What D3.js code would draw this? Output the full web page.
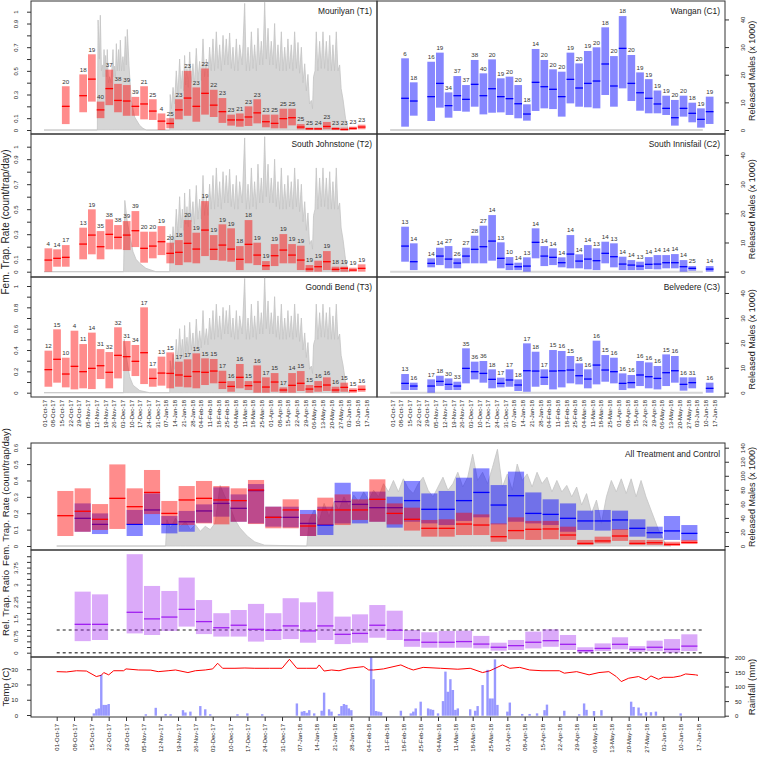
<!DOCTYPE html>
<html><head><meta charset="utf-8">
<script src="https://cdn.jsdelivr.net/npm/d3@7"></script>
<style>body{margin:0;background:#fff} svg text{font-family:"Liberation Sans",Arial,Helvetica,sans-serif}</style>
</head><body><svg id="c" width="757" height="762"></svg>
<script>
// ---------------- DATA ----------------
const weekLabels = ["01-Oct-17","08-Oct-17","15-Oct-17","22-Oct-17","29-Oct-17","05-Nov-17","12-Nov-17","19-Nov-17","26-Nov-17","03-Dec-17","10-Dec-17","17-Dec-17","24-Dec-17","31-Dec-17","07-Jan-18","14-Jan-18","21-Jan-18","28-Jan-18","04-Feb-18","11-Feb-18","18-Feb-18","25-Feb-18","04-Mar-18","11-Mar-18","18-Mar-18","25-Mar-18","01-Apr-18","08-Apr-18","15-Apr-18","22-Apr-18","29-Apr-18","06-May-18","13-May-18","20-May-18","27-May-18","03-Jun-18","10-Jun-18","17-Jun-18"];

// [week index, lower, median, upper, n]
const mourilyan = [[2,0.05,0.20,0.37,20],[4,0.15,0.29,0.47,18],[5,0.24,0.43,0.64,19],[6,0.10,0.17,0.24,40],[7,0.21,0.35,0.51,37],[8,0.15,0.25,0.39,38],[9,0.12,0.245,0.38,39],[10,0.12,0.20,0.28,39],[11,0.09,0.22,0.37,21],[12,0.085,0.16,0.26,25],[13,0,0.075,0.14,4],[14,0.015,0.055,0.10,25],[15,0.09,0.17,0.26,23],[16,0.12,0.27,0.50,23],[17,0.07,0.20,0.36,23],[18,0.13,0.31,0.52,22],[19,0.11,0.21,0.34,22],[20,0.06,0.155,0.27,23],[21,0.037,0.085,0.13,23],[22,0.028,0.085,0.14,21],[23,0.034,0.11,0.20,23],[24,0.056,0.145,0.26,23],[25,0.023,0.07,0.13,23],[26,0.014,0.056,0.13,25],[27,0.014,0.096,0.18,25],[28,0.039,0.104,0.18,25],[29,0.006,0.025,0.05,25],[30,0,0.011,0.02,25],[31,0,0.01,0.02,24],[32,0.006,0.03,0.068,23],[33,0,0.011,0.022,23],[34,0,0.003,0.02,23],[35,0,0.014,0.028,23],[36,0.006,0.025,0.045,23]];
const wangan = [[1,0.028,0.268,0.606,6],[2,0.121,0.245,0.403,18],[4,0.076,0.282,0.577,16],[5,0.189,0.394,0.654,19],[6,0.104,0.206,0.318,34],[7,0.161,0.290,0.456,37],[8,0.155,0.259,0.380,37],[9,0.197,0.386,0.592,38],[10,0.132,0.290,0.479,40],[11,0.146,0.349,0.597,20],[12,0.149,0.282,0.437,19],[13,0.127,0.265,0.451,20],[14,0.099,0.222,0.380,20],[15,0.079,0.135,0.217,18],[16,0.161,0.403,0.685,14],[17,0.183,0.366,0.592,20],[18,0.177,0.344,0.513,20],[19,0.113,0.282,0.493,20],[20,0.225,0.428,0.654,19],[21,0.197,0.355,0.563,20],[22,0.192,0.394,0.668,19],[23,0.183,0.414,0.699,20],[24,0.296,0.558,0.868,18],[25,0.197,0.372,0.625,20],[26,0.352,0.690,0.963,18],[27,0.245,0.394,0.634,20],[28,0.163,0.315,0.487,19],[29,0.141,0.268,0.430,19],[30,0.141,0.220,0.334,19],[31,0.127,0.183,0.290,19],[32,0.037,0.104,0.254,20],[33,0.113,0.183,0.290,20],[34,0.065,0.141,0.231,18],[35,0.020,0.090,0.183,19],[36,0.051,0.155,0.282,19]];
const southJohnstone = [[0,0,0.093,0.187,4],[1,0.04,0.107,0.179,14],[2,0.04,0.115,0.213,17],[4,0.099,0.221,0.352,13],[5,0.139,0.293,0.499,19],[6,0.099,0.20,0.325,35],[7,0.179,0.299,0.419,38],[8,0.179,0.275,0.373,38],[9,0.173,0.293,0.405,39],[10,0.197,0.328,0.485,39],[11,0.072,0.187,0.32,20],[12,0.107,0.205,0.32,20],[13,0.133,0.24,0.365,19],[14,0.067,0.147,0.232,20],[15,0.053,0.155,0.253,18],[16,0.075,0.227,0.413,20],[17,0.067,0.181,0.312,19],[18,0.125,0.333,0.565,19],[19,0.093,0.179,0.293,19],[20,0.088,0.213,0.379,19],[21,0.08,0.181,0.347,19],[22,0.013,0.099,0.205,18],[23,0.067,0.219,0.413,18],[24,0.053,0.133,0.232,19],[25,0.013,0.048,0.085,19],[26,0.045,0.128,0.221,19],[27,0.067,0.173,0.301,19],[28,0.067,0.133,0.221,19],[29,0.013,0.093,0.208,19],[30,0,0.021,0.053,19],[31,0,0.04,0.088,19],[32,0.013,0.08,0.165,19],[33,0,0.019,0.04,18],[34,0,0.027,0.04,19],[35,0,0.013,0.032,19],[36,0,0.027,0.059,19]];
const southInnisfail = [[1,0.08,0.205,0.36,13],[2,0.013,0.08,0.227,14],[4,0.035,0.067,0.107,14],[5,0.053,0.125,0.192,14],[6,0.027,0.101,0.205,27],[7,0.027,0.069,0.107,26],[8,0.067,0.125,0.192,27],[9,0.067,0.179,0.288,28],[10,0.067,0.2,0.368,27],[11,0.088,0.245,0.453,14],[12,0.027,0.107,0.235,13],[13,0.013,0.059,0.117,10],[14,0.013,0.04,0.072,14],[15,0,0.045,0.115,13],[16,0.107,0.235,0.347,14],[17,0.045,0.125,0.205,14],[18,0.053,0.115,0.187,14],[19,0.035,0.072,0.115,14],[20,0.027,0.141,0.293,14],[21,0.027,0.085,0.139,14],[22,0.019,0.101,0.213,14],[23,0.013,0.088,0.187,13],[24,0.067,0.147,0.24,14],[25,0.035,0.12,0.227,13],[26,0.013,0.061,0.12,14],[27,0.013,0.053,0.093,14],[28,0.013,0.045,0.08,13],[29,0.021,0.059,0.117,14],[30,0.019,0.061,0.133,14],[31,0.027,0.072,0.133,14],[32,0.027,0.072,0.141,14],[33,0,0.04,0.093,14],[34,0.008,0.027,0.045,25],[36,0,0.021,0.045,14]];
const goondiBend = [[0,0.056,0.216,0.394,12],[1,0.094,0.313,0.594,15],[2,0.05,0.175,0.328,10],[3,0.031,0.247,0.581,4],[4,0.041,0.197,0.456,11],[5,0.034,0.228,0.563,14],[6,0.128,0.253,0.409,31],[7,0.041,0.191,0.381,32],[8,0.134,0.35,0.613,32],[9,0.203,0.338,0.484,31],[10,0.156,0.294,0.447,34],[11,0.081,0.375,0.8,17],[12,0.056,0.134,0.228,17],[13,0.066,0.184,0.338,13],[14,0.041,0.181,0.378,15],[15,0.056,0.166,0.291,17],[16,0.05,0.153,0.313,17],[17,0.041,0.197,0.369,15],[18,0.072,0.191,0.322,15],[19,0.088,0.203,0.316,15],[20,0.034,0.097,0.206,17],[21,0.009,0.059,0.109,16],[22,0.041,0.144,0.269,16],[23,0.025,0.066,0.109,15],[24,0,0.1,0.256,16],[25,0,0.053,0.144,17],[26,0.009,0.1,0.184,15],[27,0,0.025,0.05,17],[28,0,0.069,0.184,14],[29,0.016,0.088,0.203,15],[30,0,0.034,0.072,15],[31,0.009,0.056,0.109,16],[32,0.016,0.072,0.144,16],[33,0,0.025,0.056,16],[34,0.009,0.05,0.094,15],[35,0,0.019,0.041,15],[36,0.009,0.031,0.069,16]];
const belvedere = [[1,0.025,0.0875,0.175,13],[2,0.025,0.0625,0.094,16],[4,0,0.0625,0.125,17],[5,0.0625,0.106,0.159,18],[6,0.025,0.078,0.134,30],[7,0.025,0.0625,0.103,33],[8,0.0875,0.228,0.416,35],[9,0.125,0.197,0.291,36],[10,0.094,0.181,0.297,36],[11,0.041,0.125,0.219,18],[12,0.05,0.0875,0.141,17],[13,0.056,0.119,0.219,17],[14,0.016,0.072,0.125,18],[15,0.009,0.206,0.4625,17],[16,0.056,0.203,0.384,18],[17,0.072,0.144,0.219,17],[18,0.031,0.203,0.4,15],[19,0.05,0.206,0.391,16],[20,0.0875,0.2125,0.344,15],[21,0.078,0.159,0.275,16],[22,0.041,0.128,0.219,16],[23,0.078,0.259,0.4875,16],[24,0.103,0.2125,0.353,15],[25,0.0875,0.197,0.328,16],[26,0.025,0.0875,0.181,16],[27,0.041,0.094,0.166,16],[28,0.0625,0.166,0.297,16],[29,0.041,0.15,0.284,16],[30,0.031,0.134,0.25,16],[31,0.0625,0.1875,0.359,15],[32,0.094,0.206,0.344,16],[33,0.019,0.078,0.144,16],[34,0.041,0.094,0.144,31],[36,0,0.041,0.094,16]];

// released males (day since 01-Oct-17, height in panel rate units)
const releasedEarlyT1 = [[0,0],[42.9,0],[43.5,0.93],[44.5,0.6],[45.3,0.97],[46.2,0.5],[46.9,0.55],[47.6,0.45],[48.3,0.68],[49,0.45],[49.6,0.63],[50.3,0.45],[50.9,0.68],[51.8,0.4],[52.8,0.45],[54,0.4],[55.5,0.68],[56.2,0.45],[56.8,0.54],[57.5,0.45],[58.2,0.73],[59,0.5],[60,0.68],[60.7,0.5],[61.4,0.76],[62.4,0.5],[63.5,0.62],[64.4,0.5],[65.4,0.79],[66.2,0.55],[67,0.85],[68.4,0.54],[70.2,0.25],[72.9,0.11],[76.9,0.04],[79.6,0.014],[82.3,0],[101,0]];
const releasedEarlyT2 = [[0,0],[64,0],[65,0.57],[67,0.4],[69,0.29],[71.6,0.16],[74,0.1],[77,0.067],[82,0.027],[90,0],[101,0]];
const releasedEarlyT3 = [[0,0],[64,0],[64.5,0.5],[66.2,0.34],[68.9,0.15],[71.6,0.07],[77,0.02],[85,0],[101,0]];
const releasedMain = [[101.1,0],[101.5,0.3],[102.5,0.18],[103.8,0.36],[105,0.22],[106.4,0.5],[107.7,0.3],[109.1,0.6],[110.2,0.35],[111.3,0.5],[112.2,0.33],[113.1,0.63],[114,0.38],[115,0.52],[116,0.36],[117.2,0.66],[118.5,0.4],[119.8,0.56],[121,0.38],[122.5,0.69],[123.8,0.42],[125.2,0.58],[126.5,0.42],[127.9,0.77],[129.2,0.45],[130.6,0.6],[131.9,0.45],[133.2,0.7],[134.5,0.5],[135.9,0.77],[137.2,0.5],[138.6,0.83],[140,0.52],[141.3,0.72],[142.6,0.5],[144,0.8],[145.3,0.55],[146.6,0.77],[148,0.55],[149.3,0.82],[150.6,0.52],[152,0.7],[153.3,0.5],[154.7,0.77],[156,0.5],[157.4,0.72],[159.4,0.55],[161.4,1.07],[162.7,0.5],[164.1,0.7],[165.4,0.5],[166.8,0.83],[168.1,0.52],[169.4,0.72],[170.8,0.5],[172.1,0.86],[173.5,0.55],[174.8,0.75],[176,0.55],[177.5,1.08],[178.8,0.6],[180.2,0.86],[181.5,0.55],[182.8,0.75],[184.2,0.55],[185.5,0.9],[186.8,0.52],[188.2,0.72],[189.5,0.5],[190.9,0.83],[192.2,0.5],[193.6,0.7],[194.9,0.5],[196.2,0.77],[197.5,0.52],[198.9,0.72],[200.2,0.5],[201.6,0.83],[203,0.52],[204.3,0.74],[205.6,0.48],[207,0.7],[208.3,0.4],[209.7,0.56],[211,0.33],[212.3,0.47],[213.6,0.22],[215,0.25],[216,0.18],[216.8,0.45],[218,0.5],[219,0.83],[220.3,0.5],[221.7,0.75],[223,0.52],[224.4,0.83],[225.7,0.52],[227.1,0.75],[228.5,0.5],[229.8,0.8],[231.1,0.5],[232.4,0.72],[233.7,0.5],[235.1,0.83],[236.4,0.5],[237.8,0.55],[239,0.35],[240.5,0.26],[242.5,0.1],[244.5,0.01],[246,0]];
const releasedAll = [[0,0],[44,0],[44.5,0.16],[46,0.11],[48,0.17],[50,0.12],[52,0.15],[54,0.1],[56,0.13],[58,0.09],[60,0.12],[62,0.1],[64,0.14],[66,0.37],[68,0.3],[70,0.24],[72,0.16],[74,0.11],[77,0.06],[80,0.025],[84,0.005],[101,0],[102,0.16],[104,0.22],[106,0.15],[108,0.26],[110,0.18],[112,0.27],[114,0.22],[116,0.3],[118,0.24],[120,0.31],[122,0.27],[124,0.33],[126,0.28],[128,0.34],[130,0.3],[132,0.38],[134,0.33],[136,0.4],[138,0.33],[140,0.41],[142,0.35],[144,0.32],[146,0.38],[148,0.42],[150,0.34],[152,0.3],[154,0.36],[156,0.42],[158,0.34],[160,0.38],[162,0.45],[164,0.36],[166,0.42],[168,0.56],[170,0.4],[172,0.45],[174,0.38],[176,0.48],[178,0.59],[180,0.36],[182,0.44],[184,0.34],[186,0.5],[188,0.4],[190,0.44],[192,0.36],[194,0.45],[196,0.38],[198,0.42],[200,0.33],[202,0.4],[204,0.33],[206,0.37],[208,0.3],[210,0.36],[212,0.25],[214,0.32],[216,0.2],[218,0.28],[220,0.14],[222,0.3],[224,0.4],[226,0.33],[228,0.41],[230,0.32],[232,0.41],[234,0.3],[236,0.4],[238,0.3],[240,0.22],[243,0.1],[246,0.01],[248,0]];

// all treatment / all control [week, lower, median, upper]
const allTreatment = [[0,0.061,0.185,0.336],[1,0.087,0.212,0.352],[2,0.098,0.163,0.256],[3,0.104,0.291,0.498],[4,0.134,0.240,0.352],[5,0.195,0.327,0.464],[6,0.134,0.199,0.275],[7,0.128,0.281,0.366],[8,0.138,0.291,0.397],[9,0.132,0.281,0.366],[10,0.148,0.277,0.352],[11,0.134,0.342,0.403],[12,0.108,0.175,0.240],[13,0.108,0.220,0.285],[14,0.061,0.122,0.195],[15,0.128,0.220,0.295],[16,0.128,0.220,0.315],[17,0.159,0.220,0.285],[18,0.148,0.285,0.407],[19,0.132,0.199,0.260],[20,0.094,0.163,0.234],[21,0.057,0.108,0.159],[22,0.057,0.108,0.163],[23,0.067,0.134,0.203],[24,0.067,0.128,0.193],[25,0.026,0.057,0.138],[26,0.041,0.094,0.175],[27,0.037,0.102,0.153],[28,0.041,0.104,0.153],[29,0.037,0.067,0.118],[30,0.006,0.016,0.037],[31,0.016,0.031,0.057],[32,0.031,0.061,0.102],[33,0.006,0.016,0.037],[34,0.006,0.020,0.037],[35,0.000,0.010,0.026],[36,0.012,0.022,0.037]];
const allControl = [[1,0.087,0.169,0.260],[2,0.073,0.132,0.199],[4,0.061,0.132,0.220],[5,0.128,0.220,0.321],[6,0.077,0.132,0.183],[7,0.087,0.148,0.214],[8,0.142,0.214,0.254],[9,0.179,0.260,0.358],[10,0.148,0.230,0.315],[11,0.138,0.338,0.378],[12,0.118,0.175,0.240],[13,0.114,0.175,0.240],[14,0.061,0.138,0.220],[15,0.067,0.128,0.240],[16,0.138,0.271,0.386],[17,0.138,0.254,0.332],[18,0.148,0.234,0.332],[19,0.112,0.234,0.301],[20,0.148,0.277,0.397],[21,0.138,0.224,0.321],[22,0.128,0.224,0.336],[23,0.153,0.277,0.417],[24,0.175,0.327,0.474],[25,0.132,0.250,0.372],[26,0.148,0.307,0.454],[27,0.138,0.199,0.327],[28,0.128,0.193,0.285],[29,0.087,0.169,0.260],[30,0.098,0.153,0.216],[31,0.094,0.153,0.220],[32,0.098,0.159,0.216],[33,0.057,0.108,0.163],[34,0.047,0.081,0.118],[35,0.037,0.092,0.183],[36,0.033,0.077,0.128]];
// relative trap ratio [week, lower, median, upper]
const relRatio = [[1,0.51,1.25,2.69],[2,0.56,1.25,2.57],[4,0.85,1.78,4.34],[5,0.78,1.49,2.94],[6,0.96,1.57,2.72],[7,1.15,1.91,3.31],[8,0.82,1.37,2.32],[9,0.71,1.10,1.74],[10,0.71,1.21,1.88],[11,0.49,1.03,2.15],[12,0.56,0.99,1.74],[13,0.60,1.18,2.40],[14,0.44,0.96,2.22],[15,0.56,1.18,2.69],[16,0.38,0.81,1.59],[17,0.44,0.85,1.69],[18,0.66,1.21,2.10],[19,0.56,0.99,1.85],[20,0.26,0.56,1.0],[21,0.22,0.46,0.90],[22,0.22,0.46,0.96],[23,0.22,0.49,0.97],[24,0.19,0.38,0.74],[25,0.09,0.24,0.44],[26,0.12,0.31,0.56],[27,0.19,0.46,0.93],[28,0.26,0.53,1.03],[29,0.12,0.37,0.78],[30,0.0,0.09,0.24],[31,0.07,0.19,0.41],[32,0.15,0.37,0.68],[33,0.04,0.15,0.29],[34,0.07,0.24,0.53],[35,0.0,0.15,0.60],[36,0.07,0.29,0.81]];

// temperature (day, deg C) and rainfall (day, mm)
const temperature = [[0,28.4],[4,28.2],[8,29],[12,28.8],[16,25.2],[18,26],[19,27.8],[21,26.3],[23,29],[27,29],[28,30.2],[33,29.5],[38,29.4],[41,28.4],[45,29],[48,29.5],[53,27.8],[56,29],[60,29.5],[63,30.2],[65,33.9],[67,30.6],[72,30.6],[76,30.8],[80,30.6],[86,30.6],[91,30.6],[94,36.5],[97,30.6],[101,30.6],[105,30.6],[106,32.8],[108,28.8],[111,29.5],[114,29],[118,30.6],[124,31.7],[126,29.5],[128,29.5],[132,30.2],[139,32.8],[142,30.6],[144,29.5],[148,31.2],[155,30.6],[162,30],[167,30.6],[172,27.8],[175,29],[180,32.8],[183,30.6],[187,31.2],[191,29.5],[196,29],[203,29],[205,27.4],[210,28.4],[215,26.3],[219,27.8],[223,28.4],[226,25.2],[228,21.9],[231,24.1],[235,25.2],[238,23],[240,25.6],[243,23.4],[245,24.7],[249,24.7],[252,25.6],[254,26.9],[258,26.3],[259,26]];
const rainfall = [[15,8],[16,22],[17,25],[18,140],[19,37],[20,37],[21,40],[36,5],[40,27],[44,6],[46,5],[51,19],[52,11],[54,14],[58,33],[60,22],[62,5],[73,5],[77,8],[83,5],[97,42],[99,14],[100,16],[101,10],[102,19],[104,8],[107,17],[108,79],[110,22],[111,14],[114,6],[115,33],[116,40],[117,37],[118,25],[119,19],[127,200],[128,125],[129,16],[130,14],[131,12],[139,17],[143,8],[144,14],[145,25],[147,48],[150,25],[151,22],[152,20],[154,8],[156,50],[157,151],[158,82],[159,125],[160,88],[161,20],[162,25],[167,22],[169,17],[170,33],[172,105],[174,157],[175,59],[176,59],[177,193],[178,37],[182,14],[183,45],[188,6],[191,6],[194,8],[197,19],[198,38],[205,17],[211,5],[213,42],[214,20],[217,16],[220,19],[232,48],[233,30],[235,28],[236,8],[238,12],[240,12],[242,14],[252,8]];

// ---------------- DRAWING ----------------
const svg = d3.select("#c");
const defs = svg.append("defs");
const parse = d3.timeParse("%d-%b-%y");
const weekDates = weekLabels.map(parse);
const DAY = 864e5;
const dayDate = d => new Date(+weekDates[0] + d * DAY);
const fmtDate = d3.timeFormat("%d-%b-%y");
const RED_FILL = "rgba(255,0,0,0.45)", BLUE_FILL = "rgba(0,0,255,0.47)", PURPLE_FILL = "rgba(160,32,240,0.38)";
const GRAY = "#d6d6d6", GRAY_STROKE = "#c4c4c4", FRAME = "#333";

const xL = d3.scaleTime().domain([weekDates[0], weekDates[37]]).range([44, 366]);
const xR = d3.scaleTime().domain([weekDates[0], weekDates[37]]).range([392, 714]);
const xB = d3.scaleTime().domain([weekDates[0], weekDates[37]]).range([56.7, 698]);

function clip(id, x, y, w, h) {
  defs.append("clipPath").attr("id", id).append("rect").attr("x", x).attr("y", y).attr("width", w).attr("height", h);
  return `url(#${id})`;
}
function frame(x, y, w, h) {
  svg.append("rect").attr("x", x).attr("y", y).attr("width", w).attr("height", h)
    .attr("fill", "none").attr("stroke", FRAME).attr("stroke-width", 1);
}
function drawBoxes(g, data, x, y, fill, lineColor, inset, showN) {
  const x0 = d => x(weekDates[d[0]]) + inset;
  const x1 = d => x(weekDates[d[0] + 1]) - inset;
  g.selectAll(null).data(data).join("rect")
    .attr("x", x0).attr("width", d => x1(d) - x0(d))
    .attr("y", d => y(d[3])).attr("height", d => Math.max(0.8, y(d[1]) - y(d[3])))
    .attr("fill", fill);
  g.selectAll(null).data(data).join("line")
    .attr("x1", x0).attr("x2", x1)
    .attr("y1", d => y(d[2])).attr("y2", d => y(d[2]))
    .attr("stroke", lineColor).attr("stroke-width", 1.3);
  if (showN) {
    g.selectAll(null).data(data).join("text")
      .attr("x", d => (x0(d) + x1(d)) / 2).attr("y", d => y(d[3]) - 2.6)
      .attr("text-anchor", "middle").attr("font-size", 6.2).attr("fill", "#333")
      .text(d => d[4]);
  }
}
function isLabel(labels, d) { return labels.some(v => Math.abs(v - d) < 1e-6); }
function fmtNum(d) { return String(+d.toFixed(2)); }
function yAxisRot(g, axis, side, offset) {
  g.call(axis);
  g.select(".domain").remove();
  g.attr("font-family", null).attr("font-size", 6);
  g.selectAll("line").attr("stroke", FRAME);
  g.selectAll("text").attr("transform", "rotate(-90)").attr("x", 0)
    .attr("y", side === "left" ? -offset : offset).attr("dy", 0)
    .attr("text-anchor", "middle").attr("fill", "#222");
}
function yAxisFlat(g, axis, side, offset) {
  g.call(axis);
  g.select(".domain").remove();
  g.attr("font-family", null).attr("font-size", 6);
  g.selectAll("line").attr("stroke", FRAME);
  g.selectAll("text").attr("x", side === "left" ? -offset : offset).attr("dy", "0.35em")
    .attr("text-anchor", side === "left" ? "end" : "start").attr("fill", "#222");
}
function vTitle(x, y, txt, size) {
  svg.append("text").attr("transform", `translate(${x},${y}) rotate(-90)`)
    .attr("text-anchor", "middle").attr("font-size", size || 9.5).attr("fill", "#222").text(txt);
}
function pTitle(x, y, txt) {
  svg.append("text").attr("x", x).attr("y", y).attr("text-anchor", "end")
    .attr("font-size", 8.4).attr("fill", "#222").text(txt);
}

// ---- top six panels ----
const rows = [
  {top: 1, bot: 134, y0: 130, y1: 11.7, trt: mourilyan, ctl: wangan, tName: "Mourilyan (T1)", cName: "Wangan (C1)", early: releasedEarlyT1, labels: [0, 0.1, 0.3, 0.5, 0.7, 0.9, 1]},
  {top: 134, bot: 277, y0: 271.7, y1: 146.7, trt: southJohnstone, ctl: southInnisfail, tName: "South Johnstone (T2)", cName: "South Innisfail (C2)", early: releasedEarlyT2, labels: [0, 0.1, 0.3, 0.5, 0.7, 0.9, 1]},
  {top: 277, bot: 397, y0: 392.7, y1: 286, trt: goondiBend, ctl: belvedere, tName: "Goondi Bend (T3)", cName: "Belvedere (C3)", early: releasedEarlyT3, labels: [0, 0.2, 0.4, 0.6, 0.8, 1]}
];
const rateTicks = d3.range(0, 1.0001, 0.1);
rows.forEach((r, i) => {
  const y = d3.scaleLinear().domain([0, 1]).range([r.y0, r.y1]);
  const yM = d3.scaleLinear().domain([0, 42.8]).range([r.y0, r.y1]);
  const gL = svg.append("g").attr("clip-path", clip("cl" + i, 31, r.top, 346, r.bot - r.top));
  const rel = r.early.concat(releasedMain);
  gL.append("path").datum(rel)
    .attr("d", d3.area().x(d => xL(dayDate(d[0]))).y0(y(0)).y1(d => y(d[1])))
    .attr("fill", GRAY).attr("stroke", GRAY_STROKE).attr("stroke-width", 0.8);
  drawBoxes(gL, r.trt, xL, y, RED_FILL, "#ff0000", 0.5, true);

  const gR = svg.append("g").attr("clip-path", clip("cr" + i, 377, r.top, 348, r.bot - r.top));
  gR.append("line").attr("x1", xR(dayDate(-1.5))).attr("x2", xR(dayDate(250)))
    .attr("y1", y(0)).attr("y2", y(0)).attr("stroke", GRAY).attr("stroke-width", 2);
  drawBoxes(gR, r.ctl, xR, y, BLUE_FILL, "#0000ff", 0.5, true);

  frame(31, r.top, 346, r.bot - r.top);
  frame(377, r.top, 348, r.bot - r.top);

  yAxisRot(svg.append("g").attr("transform", "translate(31,0)"),
    d3.axisLeft(y).tickValues(rateTicks).tickSize(4).tickFormat(d => isLabel(r.labels, d) ? fmtNum(d) : ""), "left", 13);
  yAxisRot(svg.append("g").attr("transform", "translate(725,0)"),
    d3.axisRight(yM).tickValues([0, 10, 20, 30, 40]).tickSize(4), "right", 19.5);
  pTitle(372, r.top + 13, r.tName);
  pTitle(720, r.top + 13, r.cName);
  vTitle(755, (r.y0 + r.y1) / 2, "Released Males (x 1000)", 9);
});
vTitle(9, 222, "Fem. Trap. Rate (count/trap/day)", 10);

// date labels under top panels
[xL, xR].forEach(x => {
  const g = svg.append("g").attr("transform", "translate(0,397)")
    .call(d3.axisBottom(x).tickValues(weekDates).tickSize(0).tickFormat(fmtDate));
  g.select(".domain").remove();
  g.attr("font-family", null).attr("font-size", 6);
  g.selectAll("text").attr("transform", "rotate(-90)").attr("x", -3).attr("y", 0)
    .attr("dy", "0.35em").attr("text-anchor", "end").attr("fill", "#222");
});

// ---- All treatment and control ----
const yA = d3.scaleLinear().domain([0, 0.6]).range([546, 447.7]);
const yAM = d3.scaleLinear().domain([0, 140]).range([546, 447.7]);
{
  const g = svg.append("g").attr("clip-path", clip("ca", 31, 443, 694, 107));
  g.append("path").datum(releasedAll)
    .attr("d", d3.area().x(d => xB(dayDate(d[0]))).y0(yA(0)).y1(d => yA(d[1])))
    .attr("fill", GRAY).attr("stroke", GRAY_STROKE).attr("stroke-width", 0.8);
  drawBoxes(g, allControl, xB, yA, BLUE_FILL, "#0000ff", 0.6, false);
  drawBoxes(g, allTreatment, xB, yA, RED_FILL, "#ff0000", 0.6, false);
  frame(31, 443, 694, 107);
  yAxisRot(svg.append("g").attr("transform", "translate(31,0)"),
    d3.axisLeft(yA).tickValues(d3.range(0, 0.6001, 0.1)).tickSize(4).tickFormat(fmtNum), "left", 13);
  yAxisRot(svg.append("g").attr("transform", "translate(725,0)"),
    d3.axisRight(yAM).tickValues(d3.range(0, 141, 20)).tickSize(4), "right", 19.5);
  pTitle(720, 457, "All Treatment and Control");
  vTitle(9, 497, "Fem. Trap. Rate (count/trap/day)");
  vTitle(755, 497, "Released Males (x 1000)", 9);
}

// ---- relative trap ratio ----
const yQ = d3.scaleLinear().domain([0, 1]).range([652.7, 630]);
{
  const g = svg.append("g").attr("clip-path", clip("cq", 31, 550, 694, 107));
  g.append("line").attr("x1", xB(dayDate(0))).attr("x2", xB(dayDate(261)))
    .attr("y1", yQ(1)).attr("y2", yQ(1)).attr("stroke", "#000").attr("stroke-width", 0.9).attr("stroke-dasharray", "3,3");
  g.append("line").attr("x1", xB(dayDate(0))).attr("x2", xB(dayDate(261)))
    .attr("y1", yQ(0)).attr("y2", yQ(0)).attr("stroke", "#555").attr("stroke-width", 1.4).attr("stroke-dasharray", "3,3");
  drawBoxes(g, relRatio, xB, yQ, PURPLE_FILL, "#a020f0", 0.6, false);
  frame(31, 550, 694, 107);
  yAxisRot(svg.append("g").attr("transform", "translate(31,0)"),
    d3.axisLeft(yQ).tickValues(d3.range(0, 4.2501, 0.25)).tickSize(4)
      .tickFormat(d => isLabel([0, 0.75, 1.5, 2.25, 3, 3.75], d) ? fmtNum(d) : ""), "left", 13);
  vTitle(9, 603, "Rel. Trap. Ratio");
}

// ---- temperature and rainfall ----
const yT = d3.scaleLinear().domain([0, 38]).range([715, 657]);
const yRn = d3.scaleLinear().domain([0, 200]).range([715.7, 657.3]);
{
  const g = svg.append("g").attr("clip-path", clip("ct", 31, 657, 694, 60));
  g.append("path").datum(temperature)
    .attr("d", d3.line().x(d => xB(dayDate(d[0]))).y(d => yT(d[1])))
    .attr("fill", "none").attr("stroke", "#ff0000").attr("stroke-width", 1);
  g.selectAll(null).data(rainfall).join("rect")
    .attr("x", d => xB(dayDate(d[0])) - 1.2).attr("width", 2.4)
    .attr("y", d => yRn(d[1])).attr("height", d => yRn(0) - yRn(d[1]))
    .attr("fill", "rgba(0,0,255,0.4)");
  frame(31, 657, 694, 60);
  yAxisFlat(svg.append("g").attr("transform", "translate(31,0)"),
    d3.axisLeft(yT).tickValues([0, 10, 20, 30]).tickSize(4), "left", 13);
  yAxisFlat(svg.append("g").attr("transform", "translate(725,0)"),
    d3.axisRight(yRn).tickValues([0, 50, 100, 150, 200]).tickSize(4), "right", 10);
  vTitle(9, 687, "Temp (C)");
  vTitle(755, 687, "Rainfall (mm)");
  const gx = svg.append("g").attr("transform", "translate(0,717)")
    .call(d3.axisBottom(xB).tickValues(weekDates).tickSize(4).tickFormat(fmtDate));
  gx.select(".domain").remove();
  gx.attr("font-family", null).attr("font-size", 6);
  gx.selectAll("line").attr("stroke", FRAME);
  gx.selectAll("text").attr("transform", "rotate(-90)").attr("x", -7).attr("y", 0)
    .attr("dy", "0.35em").attr("text-anchor", "end").attr("fill", "#222");
}
</script></body></html>
